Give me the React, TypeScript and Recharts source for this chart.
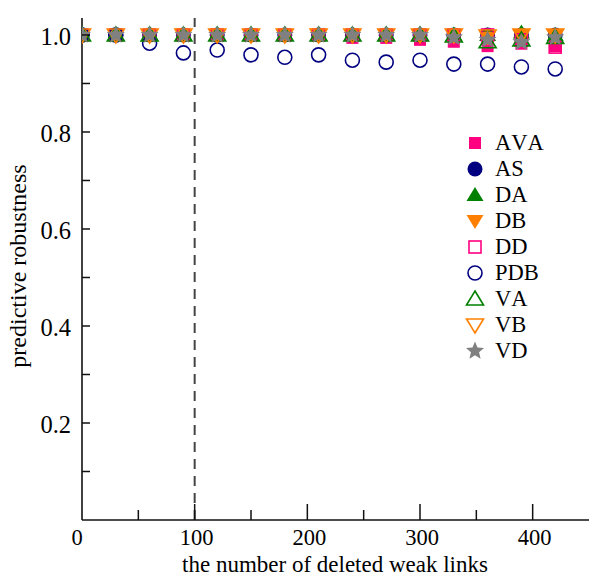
import { ScatterChart, Scatter, XAxis, YAxis, ReferenceLine, Legend, Label } from "recharts"

const xs = [0, 30, 60, 90, 120, 150, 180, 210, 240, 270, 300, 330, 360, 390, 420]

const ava = [1, 1, 1, 1, 1, 1, 1, 1, 0.994, 0.994, 0.99, 0.986, 0.977, 0.982, 0.977]
const as = [1, 1, 1, 1, 1, 1, 1, 1, 1, 1, 1, 1, 1, 1, 1]
const da = [1, 1, 1, 1, 1, 1, 1, 1, 1, 1, 1, 1, 1, 1.005, 1]
const db = [1, 1, 1, 1, 1, 1, 1, 1, 1, 1, 1, 1, 0.995, 1, 1]
const dd = [1, 1, 1, 1, 1, 1, 1, 1, 1, 1, 1, 1, 1, 0.99, 0.975]
const pdb = [1, 1, 0.983, 0.963, 0.969, 0.959, 0.954, 0.959, 0.948, 0.944, 0.948, 0.94, 0.94, 0.934, 0.93]
const va = [1, 1, 1, 1, 1, 1, 1, 1, 1, 1, 1, 0.998, 0.986, 0.99, 0.995]
const vb = [1, 1, 1, 1, 1, 1, 1, 1, 1, 1, 1, 1, 0.998, 1, 1]
const vd = [1, 1, 1, 1, 1, 1, 1, 1, 1, 1, 1, 0.995, 0.99, 0.985, 0.995]

const xTicks = [0, 50, 100, 150, 200, 250, 300, 350, 400]
const yTicks = [0.1, 0.2, 0.3, 0.4, 0.5, 0.6, 0.7, 0.8, 0.9, 1.0]

const series = [
  { name: "AVA", values: ava, kind: "square", color: "#ff0080", filled: true },
  { name: "AS", values: as, kind: "circle", color: "#000080", filled: true },
  { name: "DA", values: da, kind: "up", color: "#008000", filled: true },
  { name: "DB", values: db, kind: "down", color: "#ff8000", filled: true },
  { name: "DD", values: dd, kind: "square", color: "#ff0080", filled: false },
  { name: "PDB", values: pdb, kind: "circle", color: "#000080", filled: false },
  { name: "VA", values: va, kind: "up", color: "#008000", filled: false },
  { name: "VB", values: vb, kind: "down", color: "#ff8000", filled: false },
  { name: "VD", values: vd, kind: "star", color: "#808080", filled: true },
]

const font = "'Liberation Serif', 'Times New Roman', serif"

function starPath(cx: number, cy: number, r: number) {
  const pts: string[] = []
  for (let i = 0; i < 10; i++) {
    const rr = i % 2 === 0 ? r : r * 0.45
    const a = -Math.PI / 2 + (i * Math.PI) / 5
    pts.push(`${cx + rr * Math.cos(a)},${cy + rr * Math.sin(a)}`)
  }
  return "M" + pts.join("L") + "Z"
}

function Marker({ kind, color, filled, cx, cy }: any) {
  const fill = filled ? color : "none"
  const sw = filled ? 0 : 1.6
  if (kind === "square")
    return <rect x={cx - 6} y={cy - 6} width={12} height={12} fill={fill} stroke={color} strokeWidth={sw} />
  if (kind === "circle") return <circle cx={cx} cy={cy} r={filled ? 7.5 : 7} fill={fill} stroke={color} strokeWidth={sw} />
  if (kind === "up")
    return <path d={`M${cx},${cy - 8}L${cx + 8.5},${cy + 6}L${cx - 8.5},${cy + 6}Z`} fill={fill} stroke={color} strokeWidth={sw} />
  if (kind === "down")
    return <path d={`M${cx},${cy + 8}L${cx + 8.5},${cy - 6}L${cx - 8.5},${cy - 6}Z`} fill={fill} stroke={color} strokeWidth={sw} />
  return <path d={starPath(cx, cy, 9.5)} fill={color} />
}

const XTick = (p: any) => {
  const v = p.payload.value
  const major = v % 100 === 0
  return (
    <g>
      {v > 0 && <line x1={p.x} x2={p.x} y1={p.y} y2={p.y - (major ? 16 : 10)} stroke="#111" strokeWidth={1.5} />}
      {major && (
        <text x={v === 0 ? p.x - 5 : p.x + 2} y={p.y + 25} textAnchor="middle" fontFamily={font} fontSize={22.5} fill="#000">
          {v}
        </text>
      )}
    </g>
  )
}

const YTick = (p: any) => {
  const v = p.payload.value
  const major = Math.round(v * 10) % 2 === 0
  return (
    <g>
      <line x1={p.x} x2={p.x + 8} y1={p.y} y2={p.y} stroke="#111" strokeWidth={1.5} />
      {major && (
        <text x={p.x - 11} y={p.y + 10.5} textAnchor="end" fontFamily={font} fontSize={24.5} fill="#000">
          {v.toFixed(1)}
        </text>
      )}
    </g>
  )
}

const LegendBox = () => (
  <div style={{ fontFamily: font, fontSize: 22.5, color: "#000", fontKerning: "none" }}>
    {series.map((s) => (
      <div key={s.name} style={{ display: "flex", alignItems: "center", height: 26 }}>
        <svg width={22} height={22}>
          <Marker kind={s.kind} color={s.color} filled={s.filled} cx={11} cy={11} />
        </svg>
        <span style={{ marginLeft: 9 }}>{s.name}</span>
      </div>
    ))}
  </div>
)

export default function App() {
  return (
    <div style={{ position: "absolute", left: 0, top: 0, background: "#fff" }}>
      <ScatterChart width={589} height={577} margin={{ top: 18, right: 0, left: 0, bottom: 0 }}>
        <XAxis
          type="number"
          dataKey="x"
          domain={[0, 450]}
          ticks={xTicks}
          allowDataOverflow
          height={57}
          tickSize={0}
          tickMargin={0}
          tick={<XTick />}
          axisLine={{ stroke: "#111", strokeWidth: 1.6 }}
          tickLine={false}
        >
          <Label
            content={() => (
              <text x={335} y={572} textAnchor="middle" fontFamily={font} fontSize={23} fill="#000">
                the number of deleted weak links
              </text>
            )}
          />
        </XAxis>
        <YAxis
          type="number"
          dataKey="y"
          domain={[0, 1.035]}
          ticks={yTicks}
          allowDataOverflow
          width={82}
          tickSize={0}
          tickMargin={0}
          tick={<YTick />}
          axisLine={{ stroke: "#111", strokeWidth: 1.6 }}
          tickLine={false}
        >
          <Label
            content={() => (
              <text transform="translate(26,266) rotate(-90)" textAnchor="middle" fontFamily={font} fontSize={24} fill="#000">
                predictive robustness
              </text>
            )}
          />
        </YAxis>
        <ReferenceLine x={100} stroke="#444" strokeWidth={2} strokeDasharray="10 7" />
        {series.map((s) => (
          <Scatter
            key={s.name}
            name={s.name}
            data={xs.map((x, i) => ({ x, y: s.values[i] }))}
            isAnimationActive={false}
            shape={(props: any) => <Marker kind={s.kind} color={s.color} filled={s.filled} cx={props.cx} cy={props.cy} />}
          />
        ))}
        <Legend
          layout="horizontal"
          verticalAlign="middle"
          align="center"
          content={<LegendBox />}
          wrapperStyle={{ left: 464, top: 130, width: 120 }}
        />
      </ScatterChart>
    </div>
  )
}
